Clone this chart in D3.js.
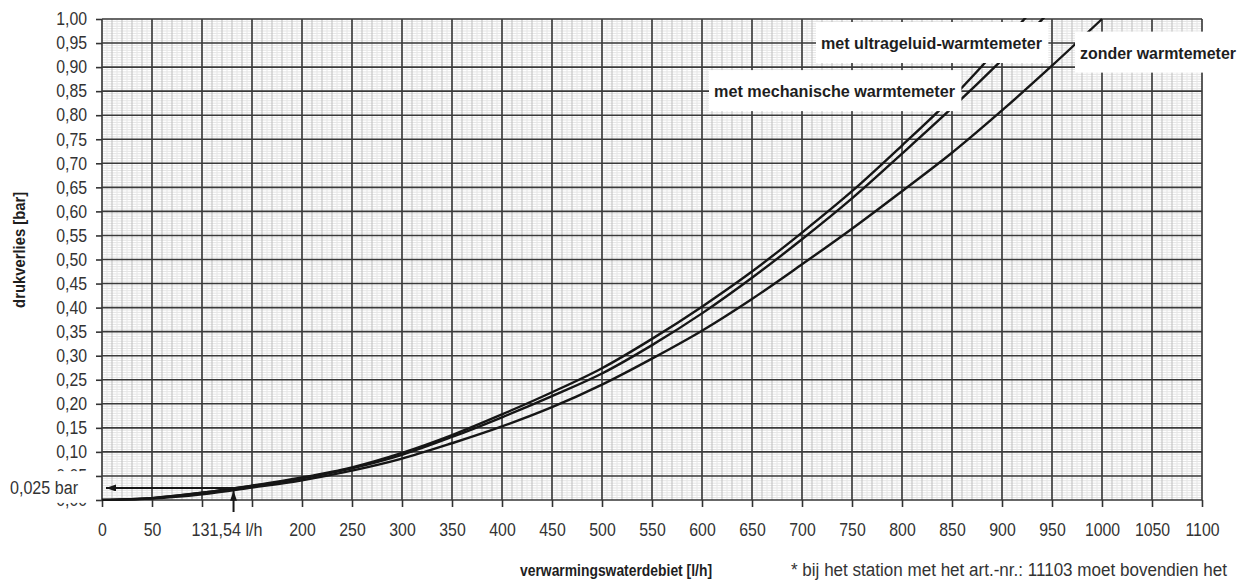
<!DOCTYPE html>
<html>
<head>
<meta charset="utf-8">
<script src="https://cdn.jsdelivr.net/npm/d3@7.9.0/dist/d3.min.js"></script>
<style>
  body { margin: 0; background: #fff; }
  svg { display: block; }
  .tick text, .note { font-family: 'Liberation Sans Narrow', 'Arial Narrow', 'Liberation Sans', Arial, sans-serif; font-size: 18px; fill: #333; }
  .bold { font-family: 'Liberation Sans Narrow', 'Arial Narrow', 'Liberation Sans', Arial, sans-serif; font-weight: bold; fill: #1e1e1e; }
</style>
</head>
<body>
<svg id="chart" width="1247" height="583"></svg>
<script>
// flow rate [l/h] and pressure loss [bar]
const flowRates = [0, 50, 100, 150, 200, 250, 300, 350, 400, 450, 500, 550, 600, 650, 700, 750, 800, 850, 900, 950, 1000];
const dpUltrasonic = [0, 0.004, 0.015, 0.030, 0.047, 0.068, 0.098, 0.135, 0.178, 0.224, 0.274, 0.335, 0.402, 0.475, 0.556, 0.642, 0.737, 0.836, 0.948, 1.065];
const dpMechanical = [0, 0.004, 0.015, 0.029, 0.045, 0.066, 0.094, 0.131, 0.172, 0.216, 0.263, 0.322, 0.388, 0.462, 0.542, 0.627, 0.720, 0.815, 0.915, 1.020];
const dpWithout = [0, 0.003, 0.012, 0.026, 0.041, 0.061, 0.086, 0.118, 0.153, 0.193, 0.240, 0.294, 0.352, 0.418, 0.490, 0.564, 0.642, 0.722, 0.810, 0.903, 1.000];

const xTicks = [0, 50, 100, 150, 200, 250, 300, 350, 400, 450, 500, 550, 600, 650, 700, 750, 800, 850, 900, 950, 1000, 1050, 1100];
const xHiddenLabels = [100, 150];
const yTicks = [0, 0.05, 0.10, 0.15, 0.20, 0.25, 0.30, 0.35, 0.40, 0.45, 0.50, 0.55, 0.60, 0.65, 0.70, 0.75, 0.80, 0.85, 0.90, 0.95, 1.00];

const markFlow = 131.54;
const markDp = 0.025;

const curveLabels = [
  { text: 'met ultrageluid-warmtemeter', flow: 719, dp: 0.95, width: 221 },
  { text: 'met mechanische warmtemeter', flow: 612, dp: 0.85, width: 241 },
  { text: 'zonder warmtemeter', flow: 978, dp: 0.93, width: 156 },
];

const svg = d3.select('#chart');
const x = d3.scaleLinear().domain([0, 1100]).range([102, 1202]);
const y = d3.scaleLinear().domain([0, 1]).range([500, 19]);
const [xL, xR] = x.range();
const [yB, yT] = y.range();
const squeeze = 0.88; // the original uses a condensed face

const comma = (v, n) => d3.format(`.${n}f`)(v).replace('.', ',');

// graph paper
const grid = svg.append('g');

grid.selectAll('line.hfine')
  .data(d3.range(0, 201).map(i => i * 0.005))
  .join('line')
  .attr('x1', xL).attr('x2', xR)
  .attr('y1', d => y(d)).attr('y2', d => y(d))
  .attr('stroke', '#dcdcdc').attr('stroke-width', 0.8);

grid.selectAll('line.vfine')
  .data(d3.range(0, 221).map(i => i * 5))
  .join('line')
  .attr('x1', d => x(d)).attr('x2', d => x(d))
  .attr('y1', yT).attr('y2', yB)
  .attr('stroke', d => d % 10 === 0 ? '#bdbdbd' : '#e6e6e6')
  .attr('stroke-width', 1);

grid.selectAll('line.hmajor')
  .data(yTicks)
  .join('line')
  .attr('x1', xL).attr('x2', xR)
  .attr('y1', d => y(d)).attr('y2', d => y(d))
  .attr('stroke', '#3a3a3a').attr('stroke-width', 1.6);

grid.selectAll('line.vmajor')
  .data(xTicks)
  .join('line')
  .attr('x1', d => x(d)).attr('x2', d => x(d))
  .attr('y1', yT).attr('y2', yB)
  .attr('stroke', '#3a3a3a').attr('stroke-width', 1.6);

// axes
const xAxis = d3.axisBottom(x)
  .tickValues(xTicks)
  .tickSize(7)
  .tickPadding(16)
  .tickFormat(d => xHiddenLabels.includes(d) ? '' : d);

svg.append('g')
  .attr('transform', `translate(0,${yB})`)
  .call(xAxis)
  .call(g => g.select('.domain').remove())
  .call(g => g.selectAll('.tick line').attr('stroke', '#333').attr('stroke-width', 1.6))
  .call(g => g.selectAll('.tick text').attr('transform', `scale(${squeeze},1)`));

const yAxis = d3.axisLeft(y)
  .tickValues(yTicks)
  .tickSize(6)
  .tickPadding(9)
  .tickFormat(d => comma(d, 2));

svg.append('g')
  .attr('transform', `translate(${xL},0)`)
  .call(yAxis)
  .call(g => g.select('.domain').remove())
  .call(g => g.selectAll('.tick line').attr('stroke', '#333').attr('stroke-width', 1.6))
  .call(g => g.selectAll('.tick text')
    .attr('x', -15 / squeeze)
    .attr('transform', `scale(${squeeze},1)`));

// curves
svg.append('clipPath').attr('id', 'plot-clip')
  .append('rect')
  .attr('x', xL).attr('y', yT - 1)
  .attr('width', xR - xL).attr('height', yB - yT + 2);

const line = d3.line()
  .x(d => x(d[0]))
  .y(d => y(d[1]))
  .curve(d3.curveCatmullRom.alpha(0.5));

svg.append('g')
  .attr('clip-path', 'url(#plot-clip)')
  .selectAll('path')
  .data([dpUltrasonic, dpMechanical, dpWithout])
  .join('path')
  .attr('d', vals => line(vals.map((v, i) => [flowRates[i], v])))
  .attr('fill', 'none')
  .attr('stroke', '#161616')
  .attr('stroke-width', 2.4);

// curve labels on white boxes
curveLabels.forEach(lbl => {
  const g = svg.append('g');
  const t = g.append('text')
    .attr('class', 'bold')
    .attr('x', x(lbl.flow))
    .attr('y', y(lbl.dp))
    .attr('dy', '0.35em')
    .attr('font-size', 17)
    .attr('textLength', lbl.width)
    .attr('lengthAdjust', 'spacingAndGlyphs')
    .text(lbl.text);
  const bb = t.node().getBBox();
  const right = lbl.text.startsWith('zonder') ? 1247 : bb.x + bb.width + 6;
  g.insert('rect', 'text')
    .attr('x', bb.x - 5)
    .attr('y', bb.y - 12)
    .attr('width', right - bb.x + 5)
    .attr('height', bb.height + 22)
    .attr('fill', '#fff');
});

// 0,025 bar / 131,54 l/h reading
const defs = svg.append('defs');
defs.append('marker')
  .attr('id', 'arrow')
  .attr('viewBox', '0 0 10 7')
  .attr('refX', 10).attr('refY', 3.5)
  .attr('markerUnits', 'userSpaceOnUse')
  .attr('markerWidth', 11).attr('markerHeight', 7)
  .attr('orient', 'auto')
  .append('path')
  .attr('d', 'M0,0L10,3.5L0,7Z')
  .attr('fill', '#161616');

svg.append('rect')
  .attr('x', 0).attr('y', y(0.06))
  .attr('width', 93).attr('height', y(-0.006) - y(0.06))
  .attr('fill', '#fff');

svg.append('text')
  .attr('class', 'note')
  .attr('x', 10)
  .attr('y', y(markDp))
  .attr('dy', '0.35em')
  .attr('textLength', 68)
  .attr('lengthAdjust', 'spacingAndGlyphs')
  .text(`${comma(markDp, 3)} bar`);

svg.append('line')
  .attr('x1', x(markFlow)).attr('x2', x(4))
  .attr('y1', y(markDp)).attr('y2', y(markDp))
  .attr('stroke', '#161616').attr('stroke-width', 2)
  .attr('marker-end', 'url(#arrow)');

svg.append('line')
  .attr('x1', x(markFlow)).attr('x2', x(markFlow))
  .attr('y1', yB + 12).attr('y2', y(0.019))
  .attr('stroke', '#161616').attr('stroke-width', 2)
  .attr('marker-end', 'url(#arrow)');

svg.append('text')
  .attr('class', 'note')
  .attr('x', x(markFlow) - 42)
  .attr('y', yB + 7 + 16)
  .attr('dy', '0.71em')
  .attr('textLength', 71)
  .attr('lengthAdjust', 'spacingAndGlyphs')
  .text(`${comma(markFlow, 2)} l/h`);

// axis titles
svg.append('text')
  .attr('class', 'bold')
  .attr('font-size', 16)
  .attr('text-anchor', 'middle')
  .attr('textLength', 116)
  .attr('lengthAdjust', 'spacingAndGlyphs')
  .attr('transform', `translate(25,${y(0.52)}) rotate(-90)`)
  .text('drukverlies [bar]');

svg.append('text')
  .attr('class', 'bold')
  .attr('font-size', 16)
  .attr('x', 520).attr('y', 576)
  .attr('textLength', 192)
  .attr('lengthAdjust', 'spacingAndGlyphs')
  .text('verwarmingswaterdebiet [l/h]');

svg.append('text')
  .attr('class', 'note')
  .attr('font-size', 15.5)
  .attr('x', 791).attr('y', 576)
  .attr('textLength', 436)
  .attr('lengthAdjust', 'spacingAndGlyphs')
  .text('* bij het station met het art.-nr.: 11103 moet bovendien het');
</script>
</body>
</html>
